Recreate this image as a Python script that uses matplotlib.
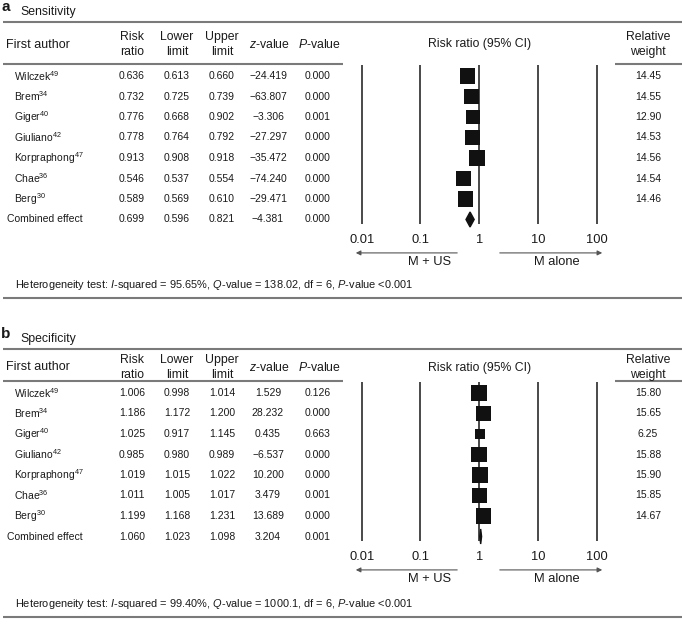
import numpy as np
import matplotlib
matplotlib.use('Agg')
import matplotlib.pyplot as plt

plt.rcParams['font.family'] = ['Liberation Sans', 'DejaVu Sans']
plt.rcParams['mathtext.fontset'] = 'custom'
plt.rcParams['mathtext.rm'] = 'Liberation Sans'
plt.rcParams['mathtext.it'] = 'Liberation Sans:italic'

W, H = 682, 630

AUTHORS = ['Wilczek', 'Brem', 'Giger', 'Giuliano', 'Korpraphong', 'Chae', 'Berg']
REFS = ['49', '34', '40', '42', '47', '36', '30']

# a: sensitivity
SENS_RR = [0.636, 0.732, 0.776, 0.778, 0.913, 0.546, 0.589]
SENS_LO = [0.613, 0.725, 0.668, 0.764, 0.908, 0.537, 0.569]
SENS_HI = [0.660, 0.739, 0.902, 0.792, 0.918, 0.554, 0.610]
SENS_Z = [-24.419, -63.807, -3.306, -27.297, -35.472, -74.240, -29.471]
SENS_P = [0.000, 0.000, 0.001, 0.000, 0.000, 0.000, 0.000]
SENS_W = [14.45, 14.55, 12.90, 14.53, 14.56, 14.54, 14.46]
SENS_COMB = [0.699, 0.596, 0.821, -4.381, 0.000]
SENS_HET = ['95.65', '138.02', '6', '<0.001']

# b: specificity
SPEC_RR = [1.006, 1.186, 1.025, 0.985, 1.019, 1.011, 1.199]
SPEC_LO = [0.998, 1.172, 0.917, 0.980, 1.015, 1.005, 1.168]
SPEC_HI = [1.014, 1.200, 1.145, 0.989, 1.022, 1.017, 1.231]
SPEC_Z = [1.529, 28.232, 0.435, -6.537, 10.200, 3.479, 13.689]
SPEC_P = [0.126, 0.000, 0.663, 0.000, 0.000, 0.001, 0.000]
SPEC_W = [15.80, 15.65, 6.25, 15.88, 15.90, 15.85, 14.67]
SPEC_COMB = [1.060, 1.023, 1.098, 3.204, 0.001]
SPEC_HET = ['99.40', '1000.1', '6', '<0.001']

TICKS = [0.01, 0.1, 1, 10, 100]
TICK_LABELS = ['0.01', '0.1', '1', '10', '100']

TXT = '#1a1a1a'
RULE = '#7a7a7a'
COLX = [132, 177, 222, 268, 318]
WX = 648
X1, DEC = 479.2, 58.75   # pixel of RR=1, pixels per decade
ROWH = 20.5
FS_ROW = 7.5
FS_HEAD = 8.8


def fmt(v, d=3):
    return f'{v:.{d}f}'.replace('-', '\u2212')


def px2x(px):
    return 10 ** ((px - X1) / DEC)


fig = plt.figure(figsize=(W / 100, H / 100), dpi=100)
ax0 = fig.add_axes([0, 0, 1, 1])
ax0.set_xlim(0, W)
ax0.set_ylim(H, 0)
ax0.axis('off')


def panel(letter, title, ytitle, ytop, yh1, yh2, yund, row0,
          rr, lo, hi, zv, pv, wt, comb, het, yhet, ybot):
    ax0.text(1, ytitle - 5, letter, fontsize=11, fontweight='bold', color=TXT, va='center')
    ax0.text(20, ytitle, title, fontsize=8.8, color=TXT, va='center')
    ax0.hlines(ytop, 3, W, color=RULE, lw=1.5)
    yc = (yh1 + yh2) / 2
    ax0.text(6, yc, 'First author', fontsize=9, color=TXT, va='center')
    for x, (l1, l2) in zip(COLX[:3], [('Risk', 'ratio'), ('Lower', 'limit'), ('Upper', 'limit')]):
        ax0.text(x, yh1, l1, fontsize=FS_HEAD, color=TXT, ha='center', va='center')
        ax0.text(x, yh2, l2, fontsize=FS_HEAD, color=TXT, ha='center', va='center')
    ax0.text(270, yc, '$z$-value', fontsize=FS_HEAD, color=TXT, ha='center', va='center')
    ax0.text(319, yc, '$P$-value', fontsize=FS_HEAD, color=TXT, ha='center', va='center')
    ax0.text(480, yc, 'Risk ratio (95% CI)', fontsize=FS_HEAD, color=TXT, ha='center', va='center')
    ax0.text(WX, yh1, 'Relative', fontsize=FS_HEAD, color=TXT, ha='center', va='center')
    ax0.text(WX, yh2, 'weight', fontsize=FS_HEAD, color=TXT, ha='center', va='center')
    ax0.hlines(yund, 3, 343, color=RULE, lw=1.5)
    ax0.hlines(yund, 615, W, color=RULE, lw=1.5)

    ys = [row0 + i * ROWH for i in range(len(rr))]
    for i, y in enumerate(ys):
        ax0.text(14, y, f'{AUTHORS[i]}$^{{{REFS[i]}}}$', fontsize=FS_ROW, color=TXT, va='center')
        for x, v in zip(COLX, [rr[i], lo[i], hi[i], zv[i], pv[i]]):
            ax0.text(x, y, fmt(v), fontsize=FS_ROW, color=TXT, ha='center', va='center')
        ax0.text(WX, y, fmt(wt[i], 2), fontsize=FS_ROW, color=TXT, ha='center', va='center')
    yc_comb = row0 + len(rr) * ROWH
    ax0.text(7, yc_comb, 'Combined effect', fontsize=FS_ROW, color=TXT, va='center')
    for x, v in zip(COLX, comb):
        ax0.text(x, yc_comb, fmt(v), fontsize=FS_ROW, color=TXT, ha='center', va='center')

    ax0.text(15, yhet, f'Heterogeneity test: $I$-squared = {het[0]}%, $Q$-value = {het[1]}, '
             f'df = {het[2]}, $P$-value {het[3]}', fontsize=7.9, color=TXT, va='center')
    ax0.hlines(ybot, 3, W, color=RULE, lw=1.5)

    # forest plot
    L, R = 340, 620
    top, bot = row0 - 14, row0 + 195
    ax = fig.add_axes([L / W, 1 - bot / H, (R - L) / W, (bot - top) / H])
    ax.set_xscale('log')
    ax.set_xlim(px2x(L), px2x(R))
    ax.set_ylim(bot, top)
    ax.axis('off')
    ax.vlines(TICKS, row0 - 11, yc_comb + 4.5, color='#2a2a2a', lw=1.2)
    ax.hlines(ys, lo, hi, color='#111111', lw=0.8)
    side = [(4.0 * np.sqrt(w) * 0.72) ** 2 for w in wt]
    ax.scatter(rr, ys, s=side, marker='s', color='#111111', linewidths=0, zorder=3)
    dh = 7.5
    ax.fill([comb[1], comb[0], comb[2], comb[0]],
            [yc_comb, yc_comb - dh, yc_comb, yc_comb + dh], color='#111111', zorder=3)
    ytk = row0 + 8.0 * ROWH
    for t, lab in zip(TICKS, TICK_LABELS):
        ax.text(t, ytk, lab, fontsize=9.3, color=TXT, ha='center', va='center')
    yar = row0 + 8.63 * ROWH
    ax.annotate('', xy=(px2x(353), yar), xytext=(px2x(460), yar),
                arrowprops=dict(arrowstyle='-|>', color='#555555', lw=0.8, mutation_scale=7))
    ax.annotate('', xy=(px2x(605), yar), xytext=(px2x(497), yar),
                arrowprops=dict(arrowstyle='-|>', color='#555555', lw=0.8, mutation_scale=7))
    ylb = row0 + 9.07 * ROWH
    ax.text(px2x(430), ylb, 'M + US', fontsize=9.3, color=TXT, ha='center', va='center')
    ax.text(px2x(557), ylb, 'M alone', fontsize=9.3, color=TXT, ha='center', va='center')


panel('a', 'Sensitivity', 12, 22, 37, 52, 64, 76,
      SENS_RR, SENS_LO, SENS_HI, SENS_Z, SENS_P, SENS_W, SENS_COMB, SENS_HET, 285, 298)
panel('b', 'Specificity', 339, 349, 360, 375, 381, 393,
      SPEC_RR, SPEC_LO, SPEC_HI, SPEC_Z, SPEC_P, SPEC_W, SPEC_COMB, SPEC_HET, 604, 617)

fig.savefig('out.png', dpi=100)
